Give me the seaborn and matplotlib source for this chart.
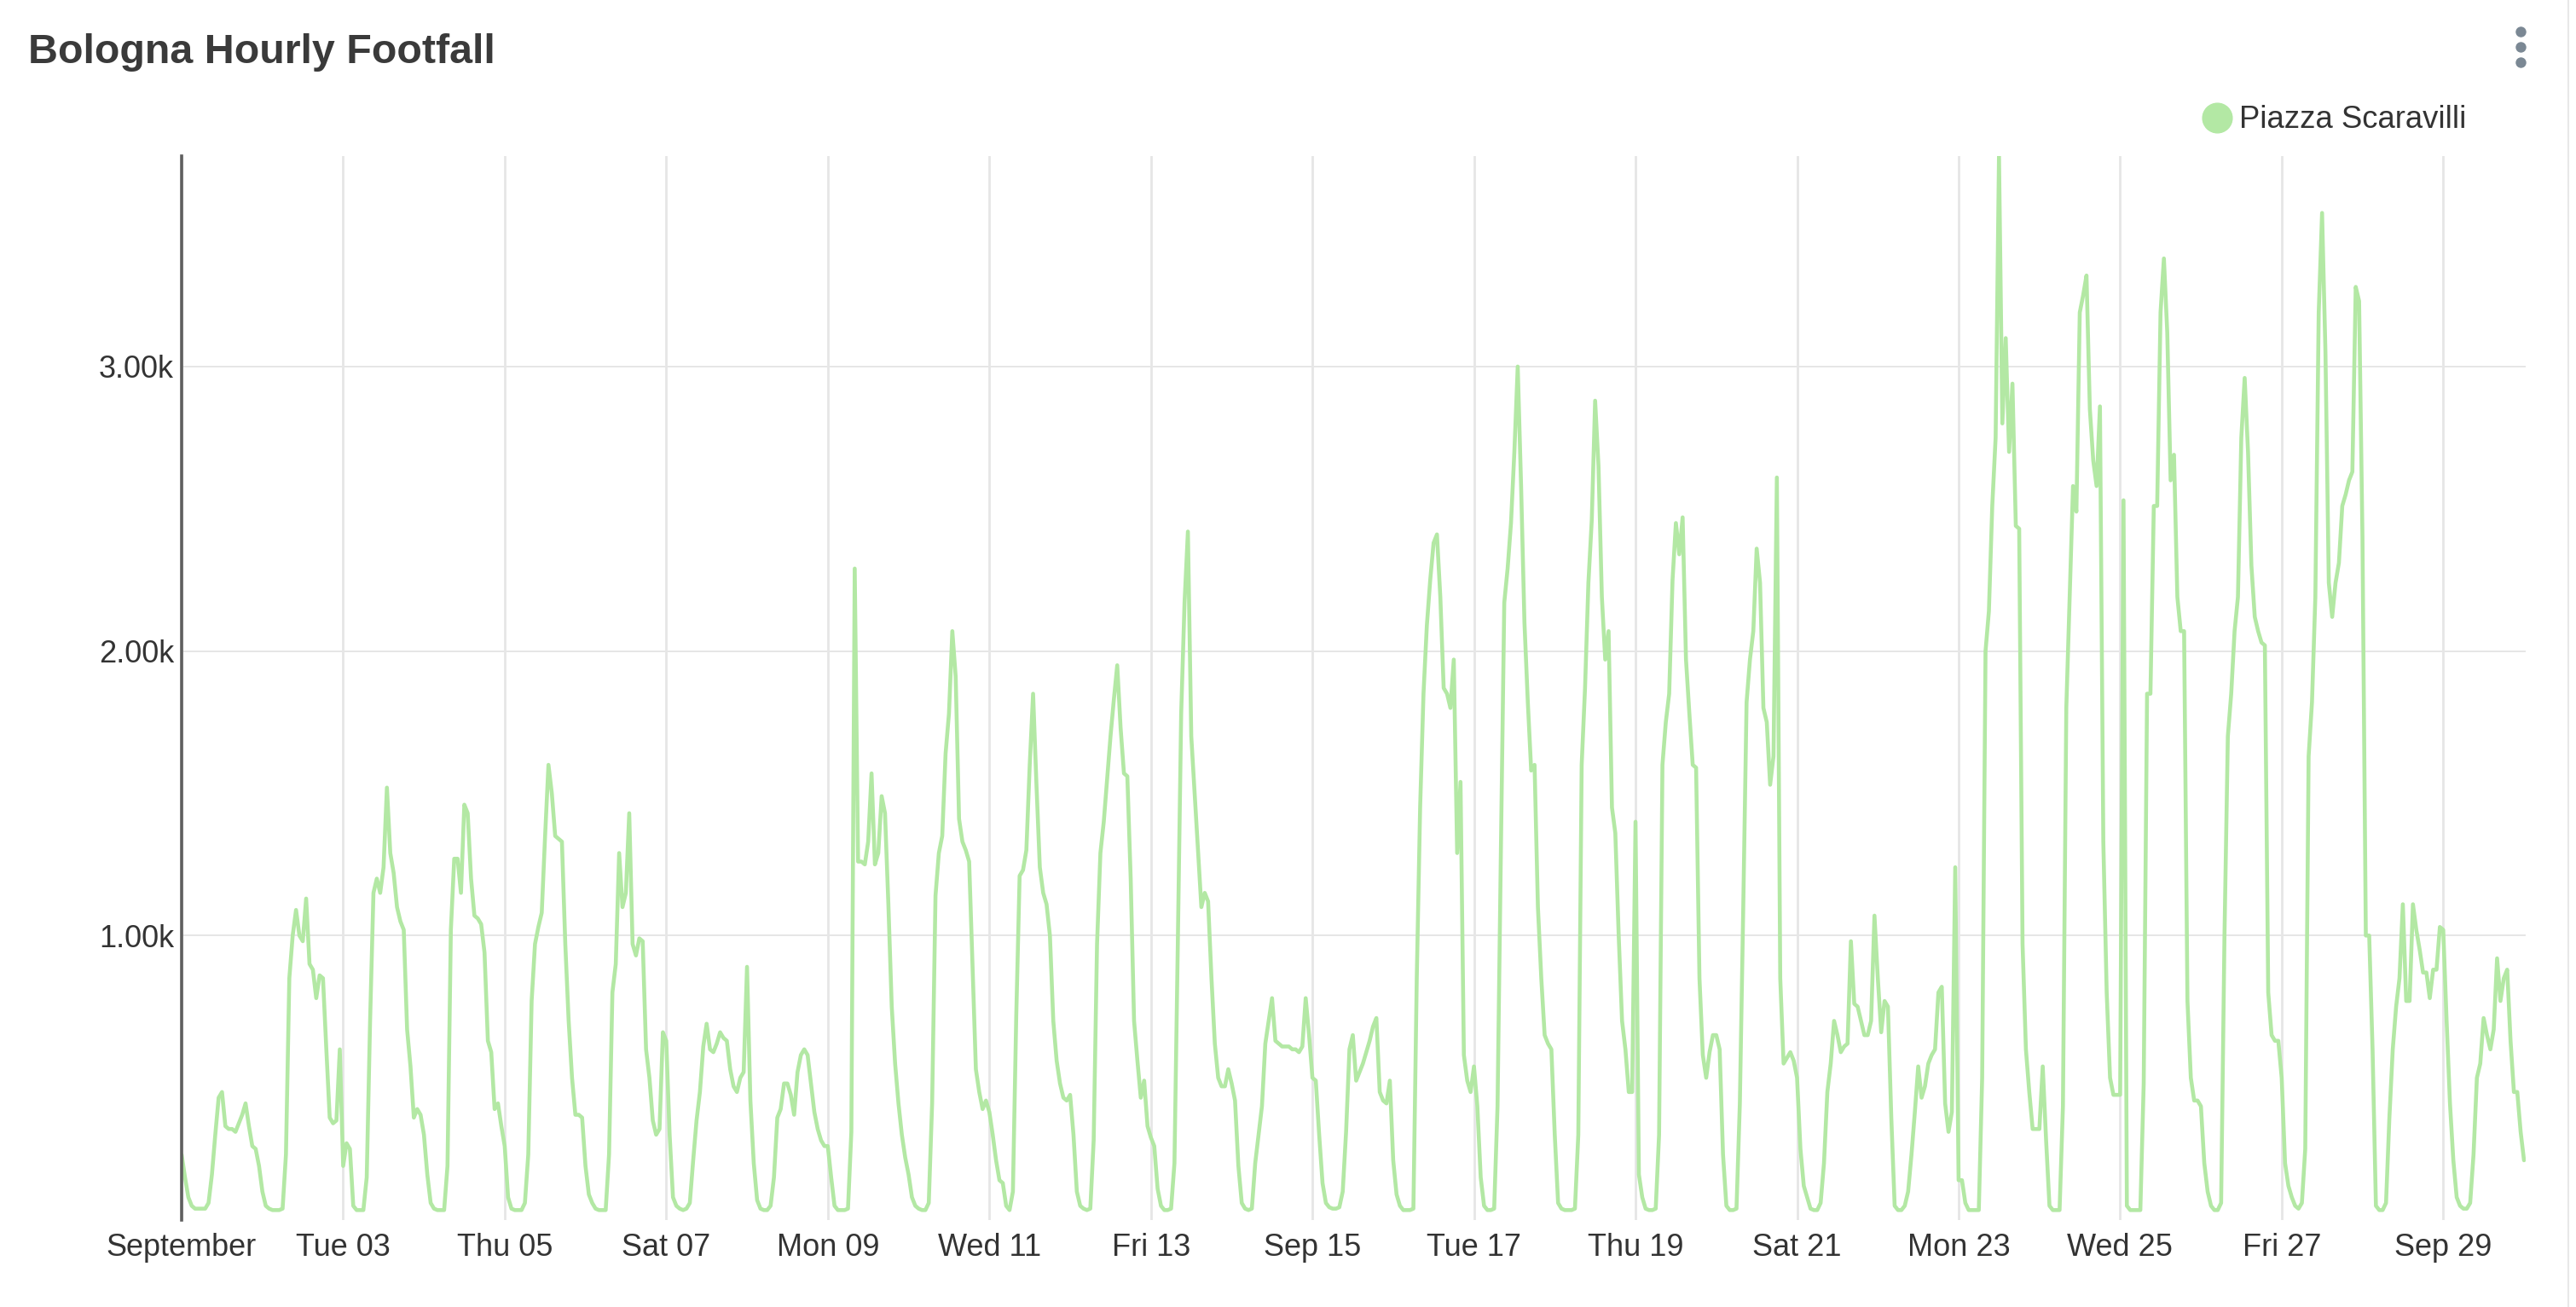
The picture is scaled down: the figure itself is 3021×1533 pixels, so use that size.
import numpy as np
import pandas as pd
import matplotlib
matplotlib.use("Agg")
import matplotlib.pyplot as plt
import matplotlib.dates as mdates
from matplotlib.lines import Line2D
import seaborn as sns

# ---------------- data ----------------
chart_title = "Bologna Hourly Footfall"
series_name = "Piazza Scaravilli"
start_time = "2019-09-01 00:00"

# hourly footfall, one row of 24 values per day
wk1 = [  # Sep 1 - Sep 7
    230,150,80,50,40,40,40,40,60,160,300,430,450,330,320,320,310,340,370,410,330,260,250,190,
    100,50,40,35,35,35,40,230,850,1000,1090,1000,980,1130,900,880,780,860,850,600,360,340,350,600,
    190,270,250,50,35,35,35,150,700,1150,1200,1150,1240,1520,1290,1220,1100,1050,1020,670,540,360,390,370,
    300,160,60,40,35,35,35,190,1020,1270,1270,1150,1460,1430,1200,1070,1060,1040,940,630,590,390,410,330,
    260,80,40,35,35,35,60,230,770,970,1030,1080,1350,1600,1500,1350,1340,1330,970,700,500,370,370,360,
    190,90,60,40,35,35,35,230,800,900,1290,1100,1150,1430,970,930,990,980,600,500,350,300,320,660,
    630,300,80,50,40,35,40,60,210,350,450,610,690,600,590,620,660,640,630,530,470,450,500,520,
]
wk2 = [  # Sep 8 - Sep 14
    890,420,200,70,40,35,35,50,150,360,390,480,480,440,370,520,580,600,580,480,380,320,280,260,
    260,150,50,35,35,35,40,310,2290,1260,1260,1250,1330,1570,1250,1290,1490,1430,1110,750,550,410,300,220,
    160,80,50,40,35,35,60,410,1140,1290,1350,1640,1780,2070,1910,1410,1330,1300,1260,890,530,450,390,420,
    380,300,210,140,130,50,35,100,720,1210,1230,1300,1600,1850,1530,1240,1150,1110,1000,700,560,480,430,420,
    440,300,100,50,40,35,40,280,970,1290,1400,1550,1700,1830,1950,1730,1570,1560,1200,700,560,430,490,330,
    290,260,110,50,35,35,40,200,970,1780,2170,2420,1700,1500,1300,1100,1150,1120,850,620,500,470,470,530,
    480,420,190,60,40,35,40,200,300,400,620,700,780,630,620,610,610,610,600,600,590,610,780,650,
]
wk3 = [  # Sep 15 - Sep 21
    500,490,300,130,60,45,40,40,45,100,310,600,650,490,520,550,590,630,680,710,450,420,410,490,
    210,90,50,35,35,35,40,850,1450,1850,2090,2250,2380,2410,2190,1870,1850,1800,1970,1290,1540,580,490,450,
    540,400,150,50,35,35,40,400,1300,2170,2290,2450,2700,3000,2580,2100,1820,1580,1600,1100,850,650,620,600,
    300,60,40,35,35,35,40,300,1600,1870,2240,2460,2880,2650,2190,1970,2070,1450,1360,1000,700,600,450,450,
    1400,160,80,40,35,35,40,300,1600,1750,1850,2250,2450,2340,2470,1970,1780,1600,1590,850,580,500,590,650,
    650,600,230,50,35,35,40,410,1090,1820,1970,2070,2360,2240,1800,1750,1530,1630,2610,850,550,570,590,560,
    500,250,120,80,40,35,35,60,200,450,550,700,650,590,610,620,980,760,750,700,650,650,700,1070,
]
wk4 = [  # Sep 22 - Sep 28
    850,660,770,750,360,50,35,35,50,100,230,380,540,430,470,550,580,600,800,820,410,310,380,1240,
    140,140,60,35,35,35,35,500,2000,2140,2510,2750,3740,2800,3100,2700,2940,2440,2430,970,600,450,320,320,
    320,540,280,50,35,35,35,400,1800,2190,2580,2490,3190,3250,3320,2850,2670,2580,2860,1330,800,500,440,440,
    440,2530,50,35,35,35,35,480,1850,1850,2510,2510,3190,3380,3120,2600,2690,2190,2070,2070,770,500,420,420,
    400,200,100,50,35,35,60,1000,1700,1850,2070,2190,2750,2960,2700,2300,2120,2070,2030,2020,800,650,630,630,
    500,200,120,80,50,40,60,250,1630,1820,2190,3190,3540,3050,2240,2120,2240,2310,2510,2550,2600,2630,3280,3230,
    2400,1000,1000,600,50,35,35,60,360,600,750,850,1110,770,770,1110,1020,950,870,870,780,880,880,1030,
]
wk5 = [  # Sep 29 and Sep 30 00:00
    1020,700,410,210,80,50,40,40,60,230,500,550,710,650,600,670,920,770,850,880,630,450,450,310,210,
]

tick_dates = ["2019-09-01", "2019-09-03", "2019-09-05", "2019-09-07", "2019-09-09",
              "2019-09-11", "2019-09-13", "2019-09-15", "2019-09-17", "2019-09-19",
              "2019-09-21", "2019-09-23", "2019-09-25", "2019-09-27", "2019-09-29"]
tick_labels = ["September", "Tue 03", "Thu 05", "Sat 07", "Mon 09", "Wed 11", "Fri 13",
               "Sep 15", "Tue 17", "Thu 19", "Sat 21", "Mon 23", "Wed 25", "Fri 27", "Sep 29"]
y_ticks = [1000, 2000, 3000]
y_tick_labels = ["1.00k", "2.00k", "3.00k"]

# ---------------- build ----------------
values = wk1 + wk2 + wk3 + wk4 + wk5
times = pd.date_range(start_time, periods=len(values), freq="h")
df = pd.DataFrame({"time": times, "footfall": values})

line_color = "#b3e8a4"
text_color = "#333333"

sns.set_style("white")
plt.rcParams["font.family"] = ["Liberation Sans", "DejaVu Sans"]

W, H = 3021, 1533
fig = plt.figure(figsize=(W / 100, H / 100), dpi=100)
fig.patch.set_facecolor("white")

ax = fig.add_axes([213 / W, 1 - 1431 / H, (2962 - 213) / W, (1431 - 183) / H])
sns.lineplot(data=df, x="time", y="footfall", ax=ax, color=line_color,
             linewidth=3.3, legend=False, zorder=3)

ax.set_xlim(times[0], times[0] + pd.Timedelta(hours=696.5))
ax.set_ylim(0, max(values))

ax.set_xticks(mdates.date2num(pd.to_datetime(tick_dates)))
ax.set_xticklabels(tick_labels)
ax.set_yticks(y_ticks)
ax.set_yticklabels(y_tick_labels)
ax.set_xlabel("")
ax.set_ylabel("")

ax.grid(True, axis="x", color="#e6e6e6", linewidth=2.0)
ax.grid(True, axis="y", color="#e6e6e6", linewidth=1.4)
ax.set_axisbelow(True)

for s in ["top", "right", "bottom"]:
    ax.spines[s].set_visible(False)
ax.spines["left"].set_color("#5f5f5f")
ax.spines["left"].set_linewidth(2.6)
ax.spines["left"].set_zorder(4)

ax.tick_params(axis="x", length=0, pad=11, labelsize=26, labelcolor=text_color)
ax.tick_params(axis="y", length=0, pad=6.5, labelsize=26, labelcolor=text_color)

# legend
handle = Line2D([0], [0], marker="o", linestyle="", color=line_color, markersize=25)
ax.legend(handles=[handle], labels=[series_name], loc="center left",
          bbox_to_anchor=(2589 / W, 1 - 141 / H), bbox_transform=fig.transFigure,
          frameon=False, fontsize=26.3, handlelength=0.6, handletextpad=0.40,
          borderpad=0, borderaxespad=0, labelcolor=text_color)

# title
fig.text(33 / W, 1 - 62 / H, chart_title, fontsize=34.8, fontweight="bold",
         color="#3a3a3a", va="center", ha="left")

# overlay decorations (menu dots, card border)
ov = fig.add_axes([0, 0, 1, 1], facecolor="none")
ov.set_xlim(0, W)
ov.set_ylim(H, 0)
ov.axis("off")
ov.scatter([2956, 2956, 2956], [37, 55, 73], s=80, color="#7b8894", linewidths=0)
ov.plot([3012, 3012], [0, H], color="#e8e8e8", linewidth=1.5)

fig.savefig("out.png", dpi=100, facecolor="white")
